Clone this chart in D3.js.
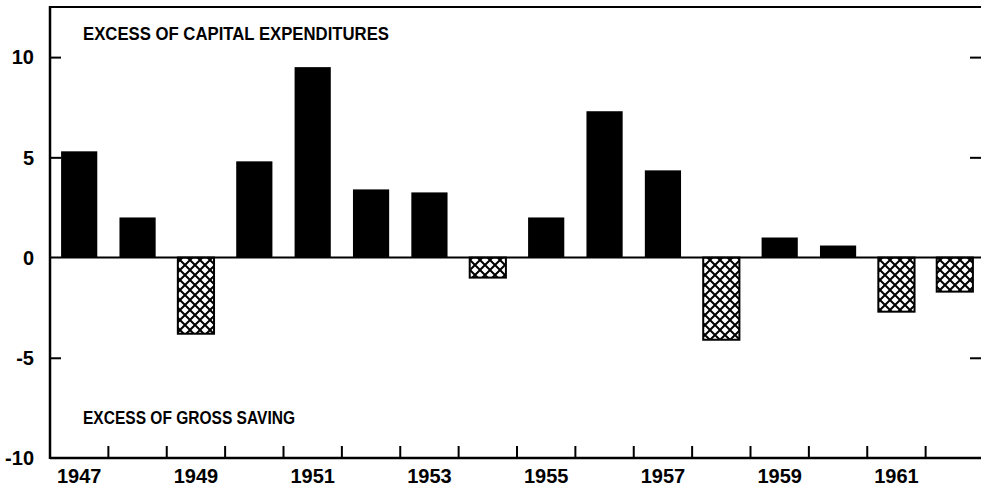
<!DOCTYPE html>
<html>
<head>
<meta charset="utf-8">
<script src="https://cdn.jsdelivr.net/npm/d3@7"></script>
<style>
  body { margin: 0; background: #fff; }
  text { font-family: "Liberation Sans", Arial, sans-serif; font-weight: bold; fill: #000; }
</style>
</head>
<body>
<div id="chart"></div>
<script>
// years and excess of capital expenditures over gross saving (billions)
const years = [1947, 1948, 1949, 1950, 1951, 1952, 1953, 1954, 1955, 1956, 1957, 1958, 1959, 1960, 1961, 1962]
const excess = [5.3, 2.0, -3.8, 4.8, 9.5, 3.4, 3.25, -1.0, 2.0, 7.3, 4.35, -4.1, 1.0, 0.6, -2.7, -1.7]
const yTicks = [-10, -5, 0, 5, 10]
const xLabelYears = [1947, 1949, 1951, 1953, 1955, 1957, 1959, 1961]

const width = 981, height = 486
const margin = { top: 7, right: 0, bottom: 28, left: 50 }

const svg = d3.select("#chart").append("svg")
    .attr("width", width)
    .attr("height", height)

// crosshatch for the negative years
const defs = svg.append("defs")
const pat = defs.append("pattern")
    .attr("id", "hatch")
    .attr("patternUnits", "userSpaceOnUse")
    .attr("width", 10)
    .attr("height", 10)
pat.append("rect").attr("width", 10).attr("height", 10).attr("fill", "#fff")
pat.append("path").attr("d", "M0,0L10,10M10,0L0,10").attr("stroke", "#000").attr("stroke-width", 2)
pat.append("path").attr("d", "M-1,9L1,11M9,-1L11,1M-1,1L1,-1M9,11L11,9").attr("stroke", "#000").attr("stroke-width", 2)

const x = d3.scaleBand()
    .domain(years)
    .range([margin.left, 984])
    .paddingInner(0.38)
    .paddingOuter(0.19)

const y = d3.scaleLinear()
    .domain([-10, 12.5])
    .range([height - margin.bottom, margin.top])

// bars
svg.selectAll(".bar")
    .data(years)
    .enter()
    .append("rect")
    .attr("class", "bar")
    .attr("x", d => x(d))
    .attr("width", x.bandwidth())
    .attr("y", (d, i) => y(Math.max(0, excess[i])))
    .attr("height", (d, i) => Math.abs(y(excess[i]) - y(0)))
    .attr("fill", (d, i) => excess[i] >= 0 ? "#000" : "url(#hatch)")
    .attr("stroke", "#000")
    .attr("stroke-width", (d, i) => excess[i] >= 0 ? 0 : 2)

// frame: top, left, bottom, zero line
const x0 = margin.left, x1 = width
svg.append("line").attr("x1", x0).attr("x2", x1).attr("y1", y(12.5)).attr("y2", y(12.5))
    .attr("stroke", "#000").attr("stroke-width", 2)
svg.append("line").attr("x1", x0).attr("x2", x0).attr("y1", y(12.5) - 1).attr("y2", y(-10) + 1)
    .attr("stroke", "#000").attr("stroke-width", 2.5)
svg.append("line").attr("x1", x0).attr("x2", x1).attr("y1", y(-10)).attr("y2", y(-10))
    .attr("stroke", "#000").attr("stroke-width", 2.5)
svg.append("line").attr("x1", x0).attr("x2", x1).attr("y1", y(0)).attr("y2", y(0))
    .attr("stroke", "#000").attr("stroke-width", 2)

// left axis, ticks pointing inward
const yAxis = svg.append("g")
    .attr("transform", `translate(${x0},0)`)
    .call(d3.axisRight(y).tickValues(yTicks.filter(v => v > -10 && v !== 0)).tickSize(11).tickFormat(""))
yAxis.select(".domain").remove()
yAxis.selectAll("line").attr("stroke-width", 2)

// right ticks
const yAxisR = svg.append("g")
    .attr("transform", `translate(${x1},0)`)
    .call(d3.axisLeft(y).tickValues(yTicks.filter(v => v > -10 && v !== 0)).tickSize(11).tickFormat(""))
yAxisR.select(".domain").remove()
yAxisR.selectAll("line").attr("stroke-width", 2)

svg.selectAll(".ylab")
    .data(yTicks)
    .enter()
    .append("text")
    .attr("class", "ylab")
    .attr("x", 34)
    .attr("y", d => y(d))
    .attr("dy", "0.36em")
    .attr("text-anchor", "end")
    .style("font-size", "20px")
    .text(d => d)

// bottom ticks at year boundaries
const step = x.step()
const boundaries = years.slice(1).map(d => x(d) - (step - x.bandwidth()) / 2)
svg.selectAll(".xtick")
    .data(boundaries)
    .enter()
    .append("line")
    .attr("class", "xtick")
    .attr("x1", d => d).attr("x2", d => d)
    .attr("y1", y(-10)).attr("y2", y(-10) - 12)
    .attr("stroke", "#000")
    .attr("stroke-width", 2)

svg.selectAll(".xlab")
    .data(xLabelYears)
    .enter()
    .append("text")
    .attr("class", "xlab")
    .attr("x", d => x(d) + x.bandwidth() / 2)
    .attr("y", 483)
    .attr("text-anchor", "middle")
    .style("font-size", "20px")
    .text(d => d)

// region notes
svg.append("text")
    .attr("x", 83).attr("y", 40)
    .attr("textLength", 306).attr("lengthAdjust", "spacingAndGlyphs")
    .style("font-size", "18px")
    .text("EXCESS OF CAPITAL EXPENDITURES")

svg.append("text")
    .attr("x", 83).attr("y", 424)
    .attr("textLength", 212).attr("lengthAdjust", "spacingAndGlyphs")
    .style("font-size", "18px")
    .text("EXCESS OF GROSS SAVING")
</script>
</body>
</html>
